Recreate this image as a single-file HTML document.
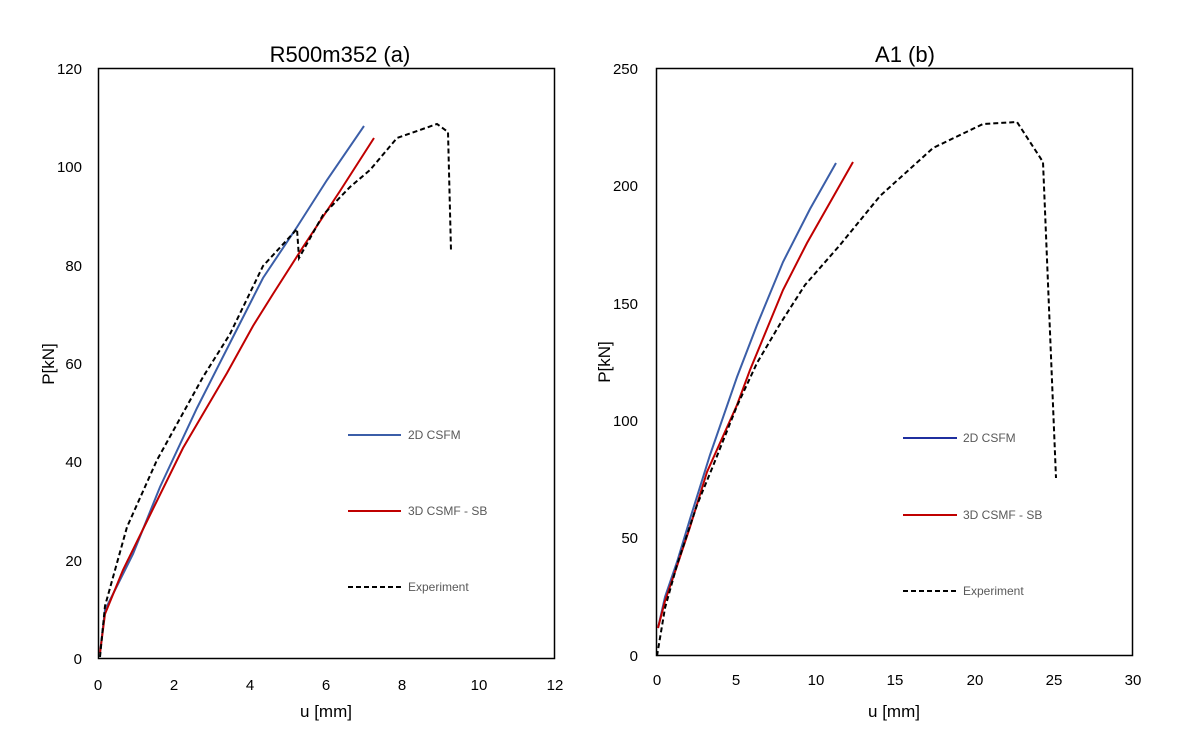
<!DOCTYPE html>
<html><head><meta charset="utf-8"><style>body{margin:0;background:#fff}svg{display:block}text{font-family:"Liberation Sans",sans-serif}</style></head><body>
<svg width="1200" height="750" xmlns="http://www.w3.org/2000/svg">
<rect width="1200" height="750" fill="#fff"/>
<!-- Left chart -->
<text x="340" y="62" font-size="22" text-anchor="middle">R500m352 (a)</text>
<rect x="98.5" y="68.5" width="456" height="590" fill="none" stroke="#000" stroke-width="1.5"/>
<g font-size="15" text-anchor="end">
<text x="82" y="664">0</text><text x="82" y="566">20</text><text x="82" y="467">40</text><text x="82" y="369">60</text><text x="82" y="271">80</text><text x="82" y="172">100</text><text x="82" y="74">120</text>
</g>
<g font-size="15" text-anchor="middle">
<text x="98" y="690">0</text><text x="174" y="690">2</text><text x="250" y="690">4</text><text x="326" y="690">6</text><text x="402" y="690">8</text><text x="479" y="690">10</text><text x="555" y="690">12</text>
</g>
<text x="326" y="717" font-size="17" text-anchor="middle">u [mm]</text>
<text transform="translate(54,364) rotate(-90)" font-size="17" text-anchor="middle">P[kN]</text>
<polyline fill="none" stroke="#3b5ea8" stroke-width="2" points="100,653 105,610 133,554 160,487 197,408 233,337 263,278 297,227 327,180 364,126"/>
<polyline fill="none" stroke="#c00000" stroke-width="2" points="100,653 105,614 123,570 150,515 183,448 227,373 253,326 273,294 303,247 340,191 374,138"/>
<polyline fill="none" stroke="#000" stroke-width="2" stroke-dasharray="5,3" points="100,657 105,606 127,527 157,460 203,377 230,334 263,266 297,229 299,258 323,215 350,187 370,170 397,138 437,124 448,132 451,251"/>
<line x1="348" y1="435" x2="401" y2="435" stroke="#3b5ea8" stroke-width="2"/>
<line x1="348" y1="511" x2="401" y2="511" stroke="#c00000" stroke-width="2"/>
<line x1="348" y1="587" x2="401" y2="587" stroke="#000" stroke-width="2" stroke-dasharray="5,3"/>
<g font-size="12" fill="#595959"><text x="408" y="439">2D CSFM</text><text x="408" y="515">3D CSMF - SB</text><text x="408" y="591">Experiment</text></g>
<!-- Right chart -->
<text x="905" y="62" font-size="22" text-anchor="middle">A1 (b)</text>
<rect x="656.5" y="68.5" width="476" height="587" fill="none" stroke="#000" stroke-width="1.5"/>
<g font-size="15" text-anchor="end">
<text x="638" y="661">0</text><text x="638" y="543">50</text><text x="638" y="426">100</text><text x="638" y="309">150</text><text x="638" y="191">200</text><text x="638" y="74">250</text>
</g>
<g font-size="15" text-anchor="middle">
<text x="657" y="685">0</text><text x="736" y="685">5</text><text x="816" y="685">10</text><text x="895" y="685">15</text><text x="975" y="685">20</text><text x="1054" y="685">25</text><text x="1133" y="685">30</text>
</g>
<text x="894" y="717" font-size="17" text-anchor="middle">u [mm]</text>
<text transform="translate(610,362) rotate(-90)" font-size="17" text-anchor="middle">P[kN]</text>
<polyline fill="none" stroke="#3b5ea8" stroke-width="2" points="658,628 665,597 677,562 690,519 710,455 737,377 757,325 783,262 810,209 836,163"/>
<polyline fill="none" stroke="#c00000" stroke-width="2" points="658,628 665,601 677,566 690,527 707,472 737,405 750,370 783,290 807,243 853,162"/>
<polyline fill="none" stroke="#000" stroke-width="2" stroke-dasharray="5,3" points="657,656 665,608 677,565 697,505 713,466 737,406 757,363 780,324 805,285 840,245 880,196 933,148 983,124 1017,122 1043,162 1056,478"/>
<line x1="903" y1="438" x2="957" y2="438" stroke="#1f2f9f" stroke-width="2"/>
<line x1="903" y1="515" x2="957" y2="515" stroke="#c00000" stroke-width="2"/>
<line x1="903" y1="591" x2="957" y2="591" stroke="#000" stroke-width="2" stroke-dasharray="5,3"/>
<g font-size="12" fill="#595959"><text x="963" y="442">2D CSFM</text><text x="963" y="519">3D CSMF - SB</text><text x="963" y="595">Experiment</text></g>
</svg>
</body></html>
